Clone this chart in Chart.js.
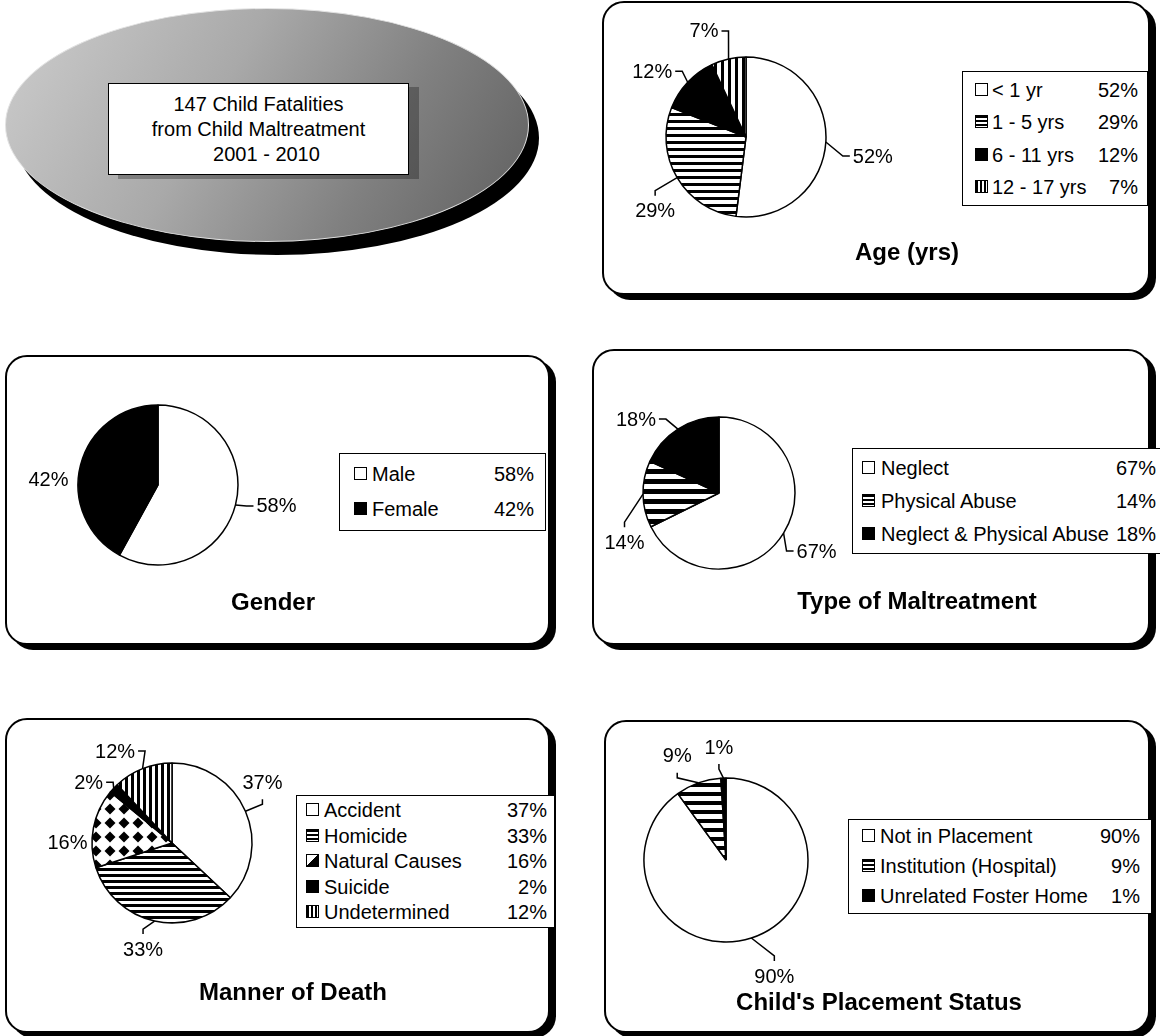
<!DOCTYPE html>
<html>
<head>
<meta charset="utf-8">
<script src="https://cdn.jsdelivr.net/npm/chart.js@4.4.1/dist/chart.umd.min.js"></script>
<style>
body{margin:0;background:#fff;font-family:"Liberation Sans",Arial,sans-serif;color:#000;}
#page{position:relative;width:1160px;height:1036px;overflow:hidden;}
.panel{position:absolute;box-sizing:border-box;border:2px solid #000;border-radius:22px;box-shadow:6px 5px 0 #000;background:#fff;}
.chart{position:absolute;z-index:2;}
.ptitle{position:absolute;font-weight:bold;font-size:24px;white-space:nowrap;transform:translate(-50%,-50%);z-index:3;}
.legend{position:absolute;box-sizing:border-box;border:1.5px solid #000;background:#fff;z-index:3;}
.lrow{position:absolute;left:0;right:0;height:24px;line-height:24px;font-size:20px;white-space:nowrap;}
.sw{position:absolute;top:5px;width:13px;height:13px;box-sizing:border-box;border:1.5px solid #000;background:#fff;}
.lab{position:absolute;}
.val{position:absolute;text-align:right;}
#ellShadow{position:absolute;left:15px;top:21px;width:524px;height:234px;border-radius:50%;background:#000;}
#ell{position:absolute;left:5px;top:8px;width:524px;height:234px;border-radius:50%;box-sizing:border-box;border:1.5px solid #e2e2e2;
  background:linear-gradient(120deg,#cdcdcd 0%,#a9a9a9 40%,#808080 70%,#5e5e5e 100%);}
#headBox{position:absolute;left:108px;top:83px;width:301px;height:92px;box-sizing:border-box;border:1.5px solid #000;background:#fff;
  box-shadow:10px 4px 0 rgba(0,0,0,0.28);display:flex;flex-direction:column;justify-content:center;align-items:center;font-size:20px;line-height:25px;}
</style>
</head>
<body>
<div id="page">
  <div id="ellShadow"></div>
  <div id="ell"></div>
  <div id="headBox"></div>
</div>
<script>
// header text
var headLines = ['147 Child Fatalities', 'from Child Maltreatment', '2001 - 2010'];

// chart data (percent of fatalities)
var ageLabels = ['< 1 yr', '1 - 5 yrs', '6 - 11 yrs', '12 - 17 yrs'];
var ageValues = [52, 29, 12, 7];
var genderLabels = ['Male', 'Female'];
var genderValues = [58, 42];
var typeLabels = ['Neglect', 'Physical Abuse', 'Neglect & Physical Abuse'];
var typeValues = [67, 14, 18];
var mannerLabels = ['Accident', 'Homicide', 'Natural Causes', 'Suicide', 'Undetermined'];
var mannerValues = [37, 33, 16, 2, 12];
var placementLabels = ['Not in Placement', 'Institution (Hospital)', 'Unrelated Foster Home'];
var placementValues = [90, 9, 1];

// layout / style for each panel
var panels = [
  {id: 'age', title: 'Age (yrs)', labels: ageLabels, values: ageValues,
   box: [602, 1, 548, 294], pie: [746, 137], r: 80, stripe: 7, titlePos: [907, 252],
   fills: ['white', 'hstripe', 'black', 'vstripe'],
   legend: [962, 71, 186, 135], row0: 18, step: 32.3, swX: 12, txtX: 29, valR: 9,
   offsets: [[47, 15, 'h'], [-22, 34, 'v'], [-35.5, -10, 'h'], [-24.5, -27, 'h']]},
  {id: 'gender', title: 'Gender', labels: genderLabels, values: genderValues,
   box: [5, 355, 545, 290], pie: [158, 485], r: 80, stripe: 7, titlePos: [273, 602],
   fills: ['white', 'black'],
   legend: [339, 453, 207, 78], row0: 20, step: 35, swX: 14, txtX: 32, valR: 11,
   offsets: [[41, 2, 'h'], [-32, 15, 'n']]},
  {id: 'type', title: 'Type of Maltreatment', labels: typeLabels, values: typeValues,
   box: [592, 349, 558, 296], pie: [719, 493], r: 76, stripe: 10, titlePos: [917, 601],
   fills: ['white', 'hstripe', 'black'],
   legend: [852, 448, 314, 106], row0: 19, step: 33, swX: 9, txtX: 28, valR: 9,
   offsets: [[33, 19, 'h'], [-18.5, 49, 'v'], [-42, -9, 'h']]},
  {id: 'manner', title: 'Manner of Death', labels: mannerLabels, values: mannerValues,
   box: [5, 718, 545, 315], pie: [172, 843], r: 80, stripe: 6, titlePos: [293, 992],
   fills: ['white', 'hstripe', 'diamond', 'black', 'vstripe'],
   legend: [296, 795, 259, 133], row0: 14, step: 25.5, swX: 9, txtX: 27, valR: 7,
   offsets: [[17, -28, 'v'], [-11.5, 29, 'v'], [-26, 15, 'n'], [-25, -5, 'h'], [-27.5, -16.6, 'h']]},
  {id: 'placement', title: "Child's Placement Status", labels: placementLabels, values: placementValues,
   box: [604, 720, 546, 313], pie: [726, 860], r: 82, stripe: 9, titlePos: [879, 1002],
   fills: ['white', 'hstripe', 'black'],
   legend: [848, 819, 304, 95], row0: 16, step: 30, swX: 13, txtX: 31, valR: 11,
   offsets: [[23, 39, 'v'], [-21, -26, 'v'], [-4.5, -30, 'v']]}
];

var swatchCss = {
  white: '#fff',
  black: '#000',
  hstripe: 'repeating-linear-gradient(to bottom,#000 0 2px,#fff 2px 4px)',
  vstripe: 'repeating-linear-gradient(to right,#000 0 2px,#fff 2px 4px)',
  diamond: 'linear-gradient(135deg,#fff 50%,#000 50%)'
};

document.getElementById('headBox').innerHTML =
  '<div>' + headLines[0] + '</div>' +
  '<div>' + headLines[1] + '</div>' +
  '<div style="padding-left:16px">' + headLines[2] + '</div>';

function makeFill(ctx, kind, period) {
  if (kind == 'white') return '#fff';
  if (kind == 'black') return '#000';
  var tile = document.createElement('canvas');
  var c = tile.getContext('2d');
  var blk = Math.round(period * 0.45);
  if (kind == 'hstripe') {
    tile.width = 8; tile.height = period;
    c.fillStyle = '#fff'; c.fillRect(0, 0, 8, period);
    c.fillStyle = '#000'; c.fillRect(0, 0, 8, blk);
  } else if (kind == 'vstripe') {
    tile.width = period; tile.height = 8;
    c.fillStyle = '#fff'; c.fillRect(0, 0, period, 8);
    c.fillStyle = '#000'; c.fillRect(0, 0, blk, 8);
  } else {
    tile.width = 14; tile.height = 14;
    c.fillStyle = '#fff'; c.fillRect(0, 0, 14, 14);
    c.fillStyle = '#000';
    c.beginPath(); c.moveTo(7, 1.5); c.lineTo(12.5, 7); c.lineTo(7, 12.5); c.lineTo(1.5, 7); c.closePath(); c.fill();
  }
  return ctx.createPattern(tile, 'repeat');
}

// percent labels with Excel-like leader lines
var leaderPlugin = {
  id: 'leaders',
  afterDatasetsDraw: function(chart) {
    var offsets = chart.options.plugins.leaders.offsets;
    var ctx = chart.ctx;
    var vals = chart.data.datasets[0].data;
    ctx.save();
    ctx.font = '20px "Liberation Sans", Arial, sans-serif';
    ctx.fillStyle = '#000';
    ctx.strokeStyle = '#000';
    ctx.lineWidth = 1.5;
    ctx.textAlign = 'center';
    ctx.textBaseline = 'middle';
    chart.getDatasetMeta(0).data.forEach(function(arc, i) {
      var p = arc.getProps(['x', 'y', 'startAngle', 'endAngle', 'outerRadius'], true);
      var mid = (p.startAngle + p.endAngle) / 2;
      var x0 = p.x + Math.cos(mid) * p.outerRadius;
      var y0 = p.y + Math.sin(mid) * p.outerRadius;
      var o = offsets[i];
      var tx = x0 + o[0], ty = y0 + o[1];
      var text = vals[i] + '%';
      var w = ctx.measureText(text).width;
      var p1, p2, s;
      if (o[2] == 'h') {
        s = o[0] > 0 ? 1 : -1;
        p2 = [tx - s * (w / 2 + 3), ty - 1];
        p1 = [p2[0] - s * 7, ty - 1];
      } else if (o[2] == 'v') {
        s = o[1] > 0 ? 1 : -1;
        p2 = [tx, ty - s * 16];
        p1 = [tx, ty - s * 21];
      }
      if (p1) {
        ctx.beginPath();
        ctx.moveTo(x0, y0); ctx.lineTo(p1[0], p1[1]); ctx.lineTo(p2[0], p2[1]);
        ctx.stroke();
      }
      ctx.fillText(text, tx, ty);
    });
    ctx.restore();
  }
};

var page = document.getElementById('page');

panels.forEach(function(pn) {
  var bx = pn.box;
  var panel = document.createElement('div');
  panel.className = 'panel';
  panel.style.cssText = 'left:' + bx[0] + 'px;top:' + bx[1] + 'px;width:' + bx[2] + 'px;height:' + bx[3] + 'px;';
  page.appendChild(panel);

  var cv = document.createElement('canvas');
  cv.className = 'chart';
  cv.id = 'chart_' + pn.id;
  cv.width = bx[2]; cv.height = bx[3];
  cv.style.cssText = 'left:' + bx[0] + 'px;top:' + bx[1] + 'px;width:' + bx[2] + 'px;height:' + bx[3] + 'px;';
  page.appendChild(cv);

  var title = document.createElement('div');
  title.className = 'ptitle';
  title.style.cssText = 'left:' + pn.titlePos[0] + 'px;top:' + pn.titlePos[1] + 'px;';
  title.textContent = pn.title;
  page.appendChild(title);

  var lg = pn.legend;
  var rows = '';
  for (var i = 0; i < pn.labels.length; i++) {
    rows += '<div class="lrow" style="top:' + (pn.row0 + i * pn.step - 12) + 'px">' +
              '<span class="sw" style="left:' + pn.swX + 'px;background:' + swatchCss[pn.fills[i]] + '"></span>' +
              '<span class="lab" style="left:' + pn.txtX + 'px">' + pn.labels[i].replace('&', '&amp;').replace('<', '&lt;') + '</span>' +
              '<span class="val" style="right:' + pn.valR + 'px">' + pn.values[i] + '%</span>' +
            '</div>';
  }
  var legend = document.createElement('div');
  legend.className = 'legend';
  legend.style.cssText = 'left:' + lg[0] + 'px;top:' + lg[1] + 'px;width:' + lg[2] + 'px;height:' + lg[3] + 'px;';
  legend.innerHTML = rows;
  page.appendChild(legend);

  var ctx = cv.getContext('2d');
  var lcx = pn.pie[0] - bx[0], lcy = pn.pie[1] - bx[1];
  var colors = pn.fills.map(function(f) { return makeFill(ctx, f, pn.stripe); });

  new Chart(ctx, {
    type: 'pie',
    data: {
      labels: pn.labels,
      datasets: [{
        data: pn.values,
        backgroundColor: colors,
        borderColor: '#000',
        borderWidth: 1.5,
        radius: pn.r
      }]
    },
    options: {
      responsive: false,
      animation: false,
      events: [],
      layout: {padding: {left: lcx - pn.r, top: lcy - pn.r, right: bx[2] - lcx - pn.r, bottom: bx[3] - lcy - pn.r}},
      plugins: {
        legend: {display: false},
        tooltip: {enabled: false},
        leaders: {offsets: pn.offsets}
      }
    },
    plugins: [leaderPlugin]
  });
});
</script>
</body>
</html>
